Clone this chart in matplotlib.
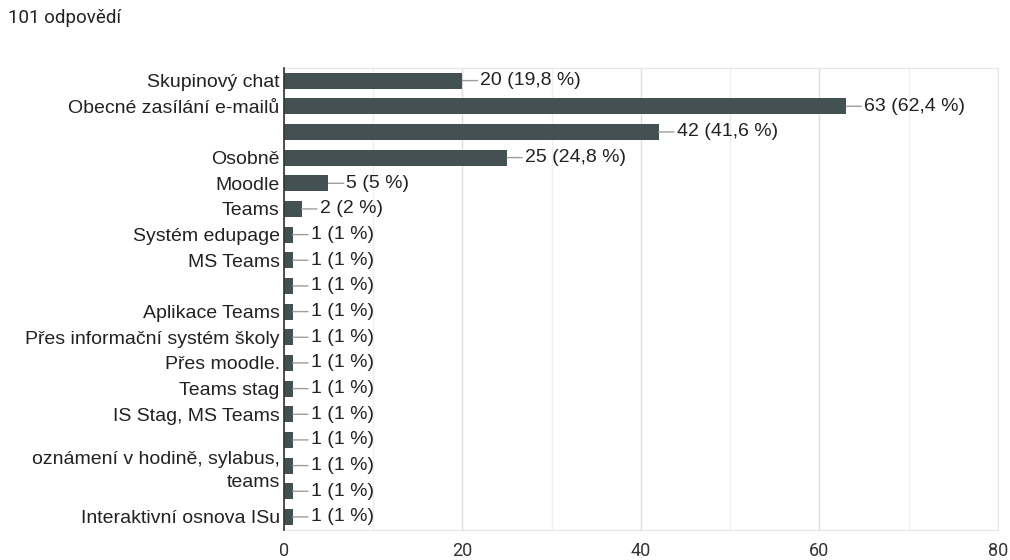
import matplotlib
matplotlib.use("Agg")
import matplotlib.pyplot as plt
from matplotlib.ticker import MultipleLocator

plt.rcParams["font.family"] = ["Liberation Sans", "DejaVu Sans"]

# -- data --

labels = [
    "Skupinový chat",
    "Obecné zasílání e-mailů",
    "",
    "Osobně",
    "Moodle",
    "Teams",
    "Systém edupage",
    "MS Teams",
    "",
    "Aplikace Teams",
    "Přes informační systém školy",
    "Přes moodle.",
    "Teams stag",
    "IS Stag, MS Teams",
    "",
    "oznámení v hodině, sylabus,\nteams",
    "",
    "Interaktivní osnova ISu",
]
counts = [20, 63, 42, 25, 5, 2, 1, 1, 1, 1, 1, 1, 1, 1, 1, 1, 1, 1]
value_labels = [
    "20 (19,8 %)", "63 (62,4 %)", "42 (41,6 %)", "25 (24,8 %)",
    "5 (5 %)", "2 (2 %)",
] + ["1 (1 %)"] * 12
x_ticks = [0, 20, 40, 60, 80]

BAR_COLOR = "#435153"
TEXT_COLOR = "#222222"
FS = 14

fig = plt.figure(figsize=(10.1, 5.6), dpi=100)
ax = fig.add_axes([0.281, 0.054, 0.707, 0.825])

ypos = list(range(len(counts)))
ax.barh(ypos, counts, height=0.62, color=BAR_COLOR, zorder=3)

for y, v, txt in zip(ypos, counts, value_labels):
    ax.annotate(txt, (v, y), xytext=(13, 0), textcoords="offset points",
                ha="left", va="center", fontsize=FS, color=TEXT_COLOR,
                arrowprops=dict(arrowstyle="-", color="#9e9e9e", lw=1,
                                shrinkA=0, shrinkB=0),
                zorder=4)

ax.set_xlim(0, 80)
ax.set_ylim(len(counts) - 0.5, -0.5)
ax.set_yticks(ypos)
ax.set_yticklabels(labels, fontsize=FS, color=TEXT_COLOR, linespacing=1.5)
ax.set_xticks(x_ticks)
ax.set_xticklabels([str(t) for t in x_ticks], fontsize=13,
                   color="#333333", family=["Roboto", "DejaVu Sans"])
ax.xaxis.set_minor_locator(MultipleLocator(10))

ax.grid(axis="x", which="major", color="#dedede", lw=1, zorder=0)
ax.grid(axis="x", which="minor", color="#efefef", lw=1, zorder=0)
ax.tick_params(axis="both", which="both", length=0)
ax.tick_params(axis="y", pad=3)
ax.tick_params(axis="x", pad=8.5)

for side in ("top", "right", "bottom"):
    ax.spines[side].set_color("#e6e6e6")
ax.spines["left"].set_color("#333333")
ax.spines["left"].set_linewidth(1.2)
ax.spines["left"].set_zorder(5)

fig.text(0.008, 0.968, "101 odpovědí", fontsize=13.5, color=TEXT_COLOR,
         ha="left", va="center", family=["Roboto", "DejaVu Sans"])

fig.savefig("out.png", dpi=100)
